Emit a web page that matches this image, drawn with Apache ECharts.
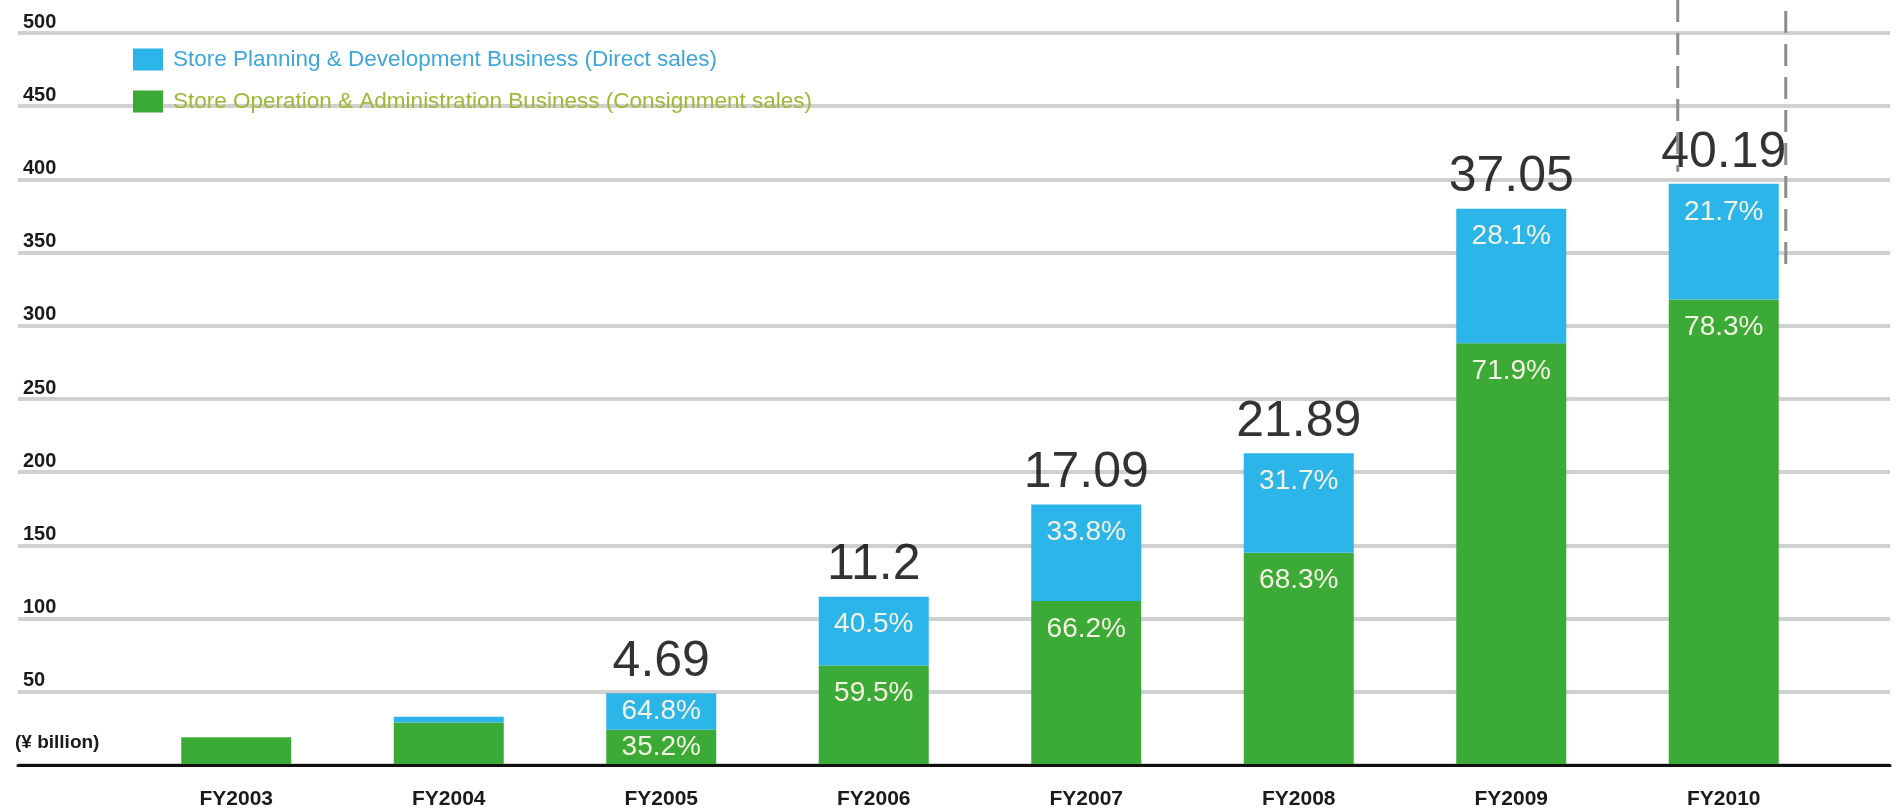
<!DOCTYPE html>
<html>
<head>
<meta charset="utf-8">
<script src="https://cdn.jsdelivr.net/npm/echarts@6/dist/echarts.min.js"></script>
<style>
html,body{margin:0;padding:0;background:#fff;}
#chart{width:1903px;height:810px;}
</style>
</head>
<body>
<div id="chart"></div>
<script>
const categories = ['FY2003','FY2004','FY2005','FY2006','FY2007','FY2008','FY2009','FY2010'];
const operationValues = [19, 29, 24, 68, 112, 145, 288, 318];
const planningValues  = [0, 4, 25, 47, 66, 68, 92, 79];
const totalLabels     = ['', '', '4.69', '11.2', '17.09', '21.89', '37.05', '40.19'];
const planningPct     = ['', '', '64.8%', '40.5%', '33.8%', '31.7%', '28.1%', '21.7%'];
const operationPct    = ['', '', '35.2%', '59.5%', '66.2%', '68.3%', '71.9%', '78.3%'];
const yTicks = [0, 50, 100, 150, 200, 250, 300, 350, 400, 450, 500];
const unitLabel = '(¥ billion)';
const seriesNames = ['Store Planning & Development Business (Direct sales)', 'Store Operation & Administration Business (Consignment sales)'];

const BLUE = '#2bb5e9', GREEN = '#3caa36';
const FONT = 'Liberation Sans, Arial, Helvetica, sans-serif';

const chart = echarts.init(document.getElementById('chart'));

function segData(vals){
  return vals.map(v => v > 0 ? (v < 35 ? {value: v, label: {position: 'inside', distance: 0}} : v) : '-');
}
const totals = operationValues.map((v, i) => v + planningValues[i]);

const pctLabel = (arr) => ({
  show: true, position: 'insideTop', distance: 14,
  formatter: p => arr[p.dataIndex],
  color: '#f4f2e2', fontSize: 28, fontFamily: FONT
});

const option = {
  backgroundColor: '#ffffff',
  animation: false,
  title: {
    text: unitLabel, left: 10, top: 728,
    textStyle: {fontSize: 19, fontWeight: 'bold', color: '#1a1a1a', fontFamily: FONT}
  },
  legend: {
    orient: 'vertical', left: 133, top: 48, padding: 0,
    itemWidth: 30, itemHeight: 22, itemGap: 19,
    icon: 'rect',
    data: [
      {name: seriesNames[0], textStyle: {color: '#3ea7da'}},
      {name: seriesNames[1], textStyle: {color: '#9cb936'}}
    ],
    textStyle: {fontSize: 22.5, fontFamily: FONT, padding: [0, 0, 0, 5]},
    selectedMode: false
  },
  grid: [
    {left: 18, right: 13, top: 33, bottom: 45},
    {left: 130, right: 73, top: 33, bottom: 45}
  ],
  xAxis: [
    {gridIndex: 0, type: 'category', data: [''], z: 10,
     axisLine: {show: true, lineStyle: {color: '#111', width: 3}},
     axisTick: {show: false}, axisLabel: {show: false}, splitLine: {show: false}},
    {gridIndex: 1, type: 'category', data: categories,
     axisLine: {show: false}, axisTick: {show: false},
     axisLabel: {margin: 24, fontSize: 21, fontWeight: 'bold', color: '#1a1a1a', fontFamily: FONT}}
  ],
  yAxis: [
    {gridIndex: 0, type: 'value', min: yTicks[0], max: yTicks[yTicks.length - 1], interval: yTicks[1] - yTicks[0],
     axisLine: {show: false}, axisTick: {show: false},
     axisLabel: {inside: true, margin: 5, verticalAlign: 'bottom', padding: [0, 0, 1, 0],
       fontSize: 20, fontWeight: 'bold', color: '#1a1a1a', fontFamily: FONT,
       formatter: v => (v === 0 ? '' : String(v))},
     splitLine: {show: true, lineStyle: {color: '#d0d0d0', width: 4}}},
    {gridIndex: 1, type: 'value', min: yTicks[0], max: yTicks[yTicks.length - 1], interval: yTicks[1] - yTicks[0],
     show: false, splitLine: {show: false}}
  ],
  series: [
    {name: seriesNames[1], type: 'bar', stack: 'sales', xAxisIndex: 1, yAxisIndex: 1,
     barWidth: 110, itemStyle: {color: GREEN}, data: segData(operationValues),
     label: pctLabel(operationPct)},
    {name: seriesNames[0], type: 'bar', stack: 'sales', xAxisIndex: 1, yAxisIndex: 1,
     barWidth: 110, itemStyle: {color: BLUE}, data: segData(planningValues),
     label: pctLabel(planningPct)},
    {name: 'total', type: 'scatter', xAxisIndex: 1, yAxisIndex: 1,
     symbol: 'rect', symbolSize: 2, itemStyle: {color: 'rgba(0,0,0,0)'}, data: totals, z: 5,
     silent: true,
     label: {show: true, position: 'top', distance: 5, formatter: p => totalLabels[p.dataIndex],
       fontSize: 50, color: '#000', fontFamily: FONT}}
  ]
};
chart.setOption(option);

// dashed guide lines around the last bar (derived through the axes)
const last = categories[categories.length - 1];
const cx = chart.convertToPixel({xAxisIndex: 1}, last);
const yTop = chart.convertToPixel({yAxisIndex: 1}, yTicks[yTicks.length - 1]);
const yBar = chart.convertToPixel({yAxisIndex: 1}, totals[totals.length - 1]);
const dash = {stroke: '#8c8c8c', lineWidth: 3, lineDash: [22, 11]};
chart.setOption({
  graphic: [
    {type: 'line', z: 20, shape: {x1: cx - 46, y1: 0, x2: cx - 46, y2: yBar - 12}, style: dash},
    {type: 'line', z: 20, shape: {x1: cx + 62, y1: yTop - 22, x2: cx + 62, y2: yBar + 85}, style: dash}
  ]
});
</script>
</body>
</html>
